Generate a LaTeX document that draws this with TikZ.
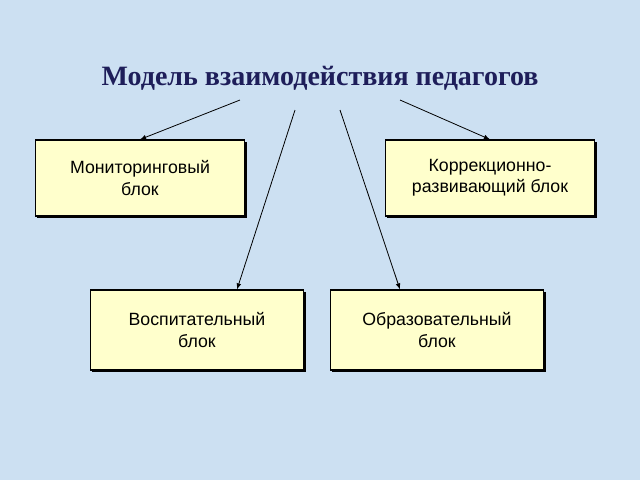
\documentclass[tikz,border=0pt]{standalone}
\usepackage{fontspec}
\setmainfont{Liberation Sans}
\newfontfamily\titlefont{Liberation Serif}
\usetikzlibrary{shadows}
\definecolor{fond}{RGB}{204,224,242}
\definecolor{boite}{RGB}{255,255,204}
\definecolor{titre}{RGB}{30,30,90}
\tikzset{
  bloc/.style={draw, line width=0.8pt, fill=boite, minimum width=157pt, minimum height=57pt,
    align=center, font=\fontsize{13.3}{16}\selectfont,
    drop shadow={shadow xshift=1.5pt, shadow yshift=-1.5pt, fill=black, opacity=1}},
  fleche/.style={-latex, line width=0.6pt}
}
\begin{document}
\begin{tikzpicture}[x=0.75pt,y=-0.75pt]
\fill[fond] (0,0) rectangle (640,480);
\useasboundingbox (0,0) rectangle (640,480);
\node[font=\titlefont\bfseries\fontsize{21}{24}\selectfont, text=titre] (titre) at (320,78) {Модель взаимодействия педагогов};

\node[bloc] (monit) at (140,178) {Мониторинговый\\блок};
\node[bloc] (korr) at (490,178) {Коррекционно-\\развивающий блок};
\node[bloc, minimum width=160pt, minimum height=60pt] (vosp) at (197,330) {Воспитательный\\блок};
\node[bloc, minimum width=160pt, minimum height=60pt] (obraz) at (437,330) {Образовательный\\блок};

\coordinate (d1) at (240,100);
\coordinate (d2) at (295,110);
\coordinate (d3) at (340,110);
\coordinate (d4) at (400,100);
\draw[fleche] (d1) -- (monit.north);
\draw[fleche] (d2) -- ([xshift=30pt]vosp.north);
\draw[fleche] (d3) -- ([xshift=-27.75pt]obraz.north);
\draw[fleche] (d4) -- (korr.north);
\end{tikzpicture}
\end{document}
